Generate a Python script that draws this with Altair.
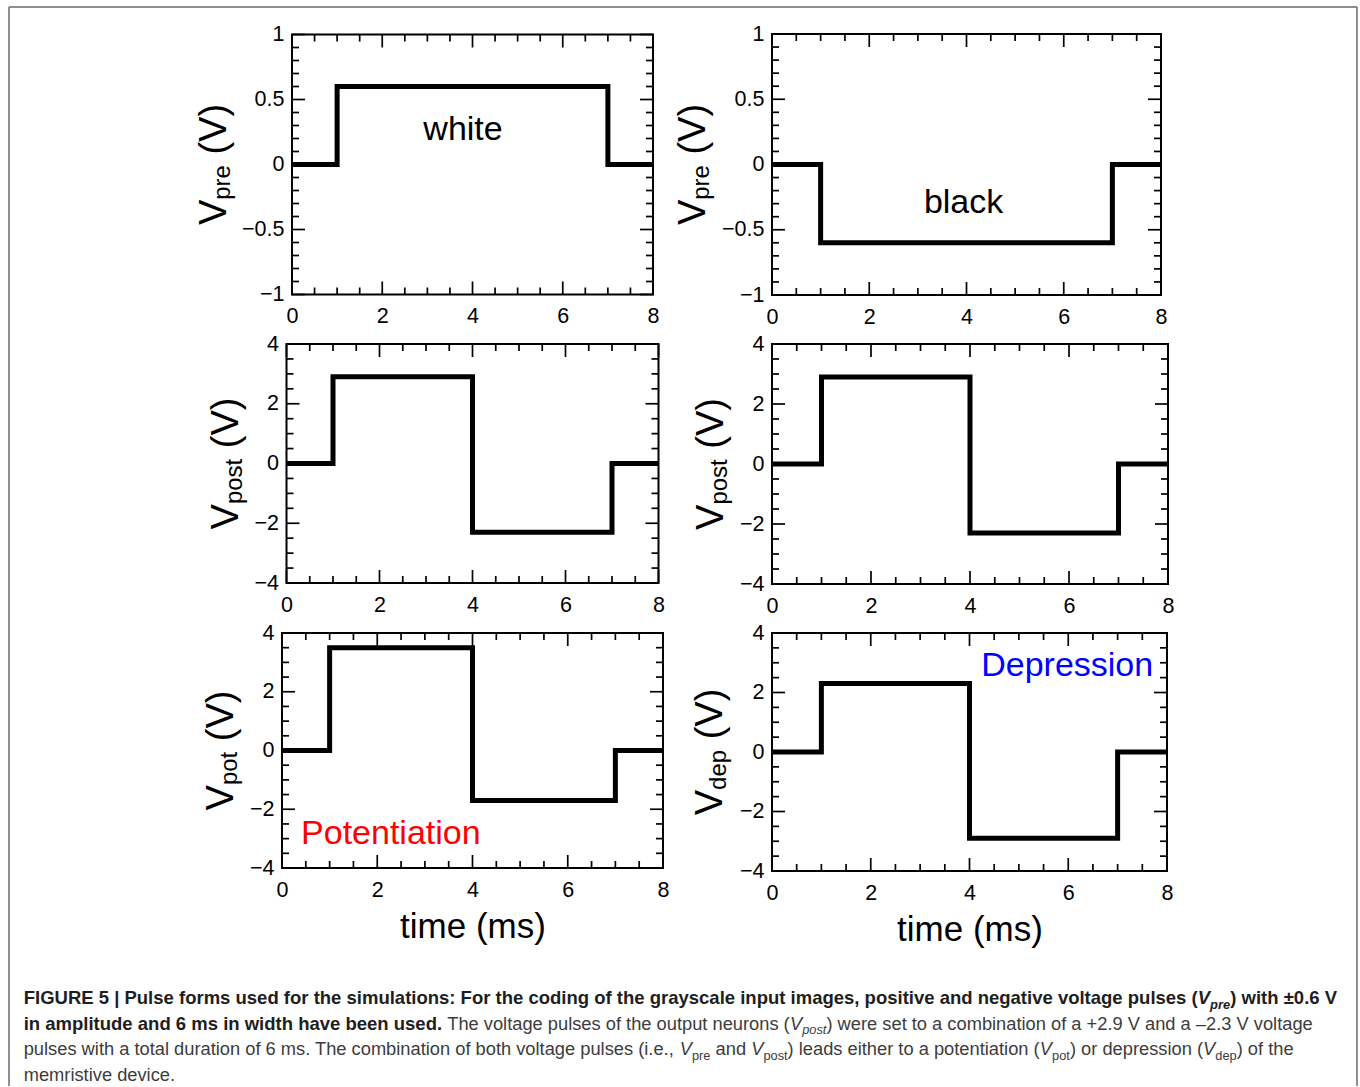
import altair as alt
import pandas as pd

FONT = "Liberation Sans"

# ---------------- data ----------------
time_pre = [0, 1, 7, 8]
v_white = [0, 0.6, 0, 0]
v_black = [0, -0.6, 0, 0]
time_post = [0, 1, 4, 7, 8]
v_post = [0, 2.9, -2.3, 0, 0]
v_pot = [0, 3.5, -1.7, 0, 0]
v_dep = [0, 2.3, -2.9, 0, 0]

x_major = [0, 2, 4, 6, 8]
x_minor = [0.5, 1, 1.5, 2.5, 3, 3.5, 4.5, 5, 5.5, 6.5, 7, 7.5]
y_major_pre = [-1, -0.5, 0, 0.5, 1]
y_minor_pre = [-0.9, -0.8, -0.7, -0.6, -0.4, -0.3, -0.2, -0.1,
               0.1, 0.2, 0.3, 0.4, 0.6, 0.7, 0.8, 0.9]
y_major_post = [-4, -2, 0, 2, 4]
y_minor_post = [-3.5, -3, -2.5, -1.5, -1, -0.5, 0.5, 1, 1.5, 2.5, 3, 3.5]

ann_text = ["white", "black", "Potentiation", "Depression"]
ann_t = [3.79, 3.94, 0.4, 7.72]
ann_v = [0.19, -0.37, -3.18, 2.55]
ann_color = ["black", "black", "#ff0000", "#0000ff"]

subs = ["pre", "pre", "post", "post", "pot", "dep"]
x_title = "time (ms)"

cap_lines = [
    [("FIGURE 5 | Pulse forms used for the simulations: For the coding of the grayscale input images, positive and negative voltage pulses (", "b"),
     ("V", "bi"), ("pre", "bis"), (") with \u00b10.6 V", "b")],
    [("in amplitude and 6 ms in width have been used.", "b"),
     (" The voltage pulses of the output neurons (", "n"), ("V", "i"), ("post", "is"),
     (") were set to a combination of a +2.9 V and a \u20132.3 V voltage", "n")],
    [("pulses with a total duration of 6 ms. The combination of both voltage pulses (i.e., ", "n"),
     ("V", "i"), ("pre", "s"), (" and ", "n"), ("V", "i"), ("post", "s"),
     (") leads either to a potentiation (", "n"), ("V", "i"), ("pot", "s"),
     (") or depression (", "n"), ("V", "i"), ("dep", "s"), (") of the", "n")],
    [("memristive device.", "n")],
]

# ---------------- layout / style (pixels) ----------------
CAP_X0 = 22.7
cap_y = [1003, 1028.5, 1054, 1079.5]

GRID_X0, GRID_Y0 = 281, 33
COLW = [381, 396]
ROWH = [261, 240, 238]
sizes = [(361, 260), (389, 261), (372, 239), (396, 240), (381, 235), (395, 238)]
title_xb = [-66, -67, -49, -49, -49, -50]

FB, FN = 18.5, 18.3
STYLE = {
    "b":   dict(fontSize=FB, fontWeight="bold", fontStyle="normal", color="#1e1e1e", dy=0, tab="b"),
    "bi":  dict(fontSize=FB, fontWeight="bold", fontStyle="italic", color="#1e1e1e", dy=0, tab="b"),
    "bis": dict(fontSize=FB * 0.7, fontWeight="bold", fontStyle="italic", color="#1e1e1e", dy=4.5, tab="b"),
    "n":   dict(fontSize=FN, fontWeight="normal", fontStyle="normal", color="#3c3c3c", dy=0, tab="n"),
    "i":   dict(fontSize=FN, fontWeight="normal", fontStyle="italic", color="#3c3c3c", dy=0, tab="n"),
    "is":  dict(fontSize=FN * 0.7, fontWeight="normal", fontStyle="italic", color="#3c3c3c", dy=4.5, tab="n"),
    "s":   dict(fontSize=FN * 0.7, fontWeight="normal", fontStyle="normal", color="#3c3c3c", dy=4.5, tab="n"),
}

# Arial / Liberation Sans advance widths (1/1000 em), used to lay caption pieces side by side
_lower_n = dict(zip("abcdefghijklmnopqrstuvwxyz",
                    [556, 556, 500, 556, 556, 278, 556, 556, 222, 222, 500, 222, 833,
                     556, 556, 556, 556, 333, 500, 278, 556, 500, 722, 500, 500, 500]))
_lower_b = dict(zip("abcdefghijklmnopqrstuvwxyz",
                    [556, 611, 556, 611, 556, 333, 611, 611, 278, 278, 556, 278, 889,
                     611, 611, 611, 611, 389, 556, 333, 611, 556, 778, 556, 556, 500]))
_upper_n = dict(zip("ABCDEFGHIJKLMNOPQRSTUVWXYZ",
                    [667, 667, 722, 722, 667, 611, 778, 722, 278, 500, 667, 556, 833,
                     722, 778, 667, 778, 722, 667, 611, 722, 667, 944, 667, 667, 611]))
_upper_b = dict(zip("ABCDEFGHIJKLMNOPQRSTUVWXYZ",
                    [722, 722, 722, 722, 667, 611, 778, 722, 278, 556, 722, 611, 833,
                     722, 778, 667, 778, 722, 667, 611, 722, 667, 944, 667, 667, 611]))
_punct_n = {" ": 278, "(": 333, ")": 333, ",": 278, ".": 278, ":": 278, "|": 260,
            "+": 584, "\u2013": 556, "\u00b1": 584}
_punct_b = {" ": 278, "(": 333, ")": 333, ",": 278, ".": 278, ":": 333, "|": 280,
            "+": 584, "\u2013": 556, "\u00b1": 584}
WTAB = {"n": {**_lower_n, **_upper_n, **_punct_n, **{d: 556 for d in "0123456789"}},
        "b": {**_lower_b, **_upper_b, **_punct_b, **{d: 556 for d in "0123456789"}}}


def text_width(s, st):
    tab = WTAB[STYLE[st]["tab"]]
    return sum(tab.get(c, 556) for c in s) / 1000.0 * STYLE[st]["fontSize"]


CW = {"V": 0.667, "p": 0.556, "r": 0.333, "e": 0.556, "o": 0.556, "s": 0.5,
      "t": 0.278, "d": 0.556, " ": 0.278, "(": 0.333, ")": 0.333}

one = pd.DataFrame({"k": [0]})


def panel(idx, t, v, ydom, ymaj, ymin, bottom):
    w, h = sizes[idx]
    xs = alt.Scale(domain=[0, 8], nice=False, zero=False)
    ys = alt.Scale(domain=ydom, nice=False, zero=False)
    xkw = dict(values=x_major, format="~g", ticks=False, tickSize=0, domain=False,
               grid=False, labelFontSize=21.5, labelPadding=11, labelColor="black",
               labelFont=FONT, labelFlush=False)
    if bottom:
        xkw.update(title=x_title, titleFontSize=35, titleFont=FONT,
                   titleFontWeight="normal", titleColor="black", titlePadding=9)
    else:
        xkw.update(title="")
    xaxis = alt.Axis(**xkw)
    yaxis = alt.Axis(values=ymaj, format="~g", ticks=False, tickSize=0, domain=False,
                     grid=False, labelFontSize=21.5, labelPadding=8, labelColor="black",
                     labelFont=FONT, labelFlush=False, title="")
    X = lambda: alt.X("t:Q", scale=xs, axis=xaxis)
    Y = lambda: alt.Y("v:Q", scale=ys, axis=yaxis)
    df = pd.DataFrame({"t": t, "v": v})
    layers = [alt.Chart(df).mark_line(interpolate="step-after", color="black",
                                       strokeWidth=5, strokeJoin="miter", strokeCap="butt")
              .encode(x=X(), y=Y())]
    # inward ticks on all four sides
    for vals, ln in ((x_major, 13), (x_minor, 7)):
        d = pd.DataFrame({"t": vals})
        for top in (False, True):
            layers.append(alt.Chart(d).mark_rule(color="black", strokeWidth=1.7).encode(
                x=X(), y=alt.value(0 if top else h), y2=alt.value(ln if top else h - ln)))
    for vals, ln in ((ymaj, 13), (ymin, 7)):
        d = pd.DataFrame({"v": vals})
        for right in (False, True):
            layers.append(alt.Chart(d).mark_rule(color="black", strokeWidth=1.7).encode(
                y=Y(), x=alt.value(w if right else 0), x2=alt.value(w - ln if right else ln)))
    # y title: V_sub (V)
    F, f = 38, 24
    sub = subs[idx]
    wV = CW["V"] * F
    wsub = sum(CW[c] for c in sub) * f
    wsp = CW[" "] * F
    wpar = (CW["("] + CW["V"] + CW[")"]) * F
    L = wV + wsub + wsp + wpar
    y0 = h / 2 + L / 2
    xb = title_xb[idx]
    for txt, fs, xx, yy in (("V", F, xb, y0), (sub, f, xb + 4, y0 - wV),
                            ("(V)", F, xb, y0 - wV - wsub - wsp)):
        layers.append(alt.Chart(one).mark_text(text=txt, angle=270, align="left",
                                               baseline="alphabetic", fontSize=fs,
                                               font=FONT, color="black")
                      .encode(x=alt.value(xx), y=alt.value(yy)))
    return layers, X, Y


def annotation(i, X, Y, align):
    d = pd.DataFrame({"t": [ann_t[i]], "v": [ann_v[i]], "label": [ann_text[i]]})
    return alt.Chart(d).mark_text(align=align, baseline="alphabetic", fontSize=34,
                                  font=FONT, color=ann_color[i]).encode(
        x=X(), y=Y(), text="label:N")


# absolute origin of panel 1 (frame and caption are placed relative to it)
p1x = GRID_X0 + (COLW[0] - sizes[0][0]) / 2
p1y = GRID_Y0 + (ROWH[0] - sizes[0][1]) / 2

specs = [
    (time_pre, v_white, [-1, 1], y_major_pre, y_minor_pre, False),
    (time_pre, v_black, [-1, 1], y_major_pre, y_minor_pre, False),
    (time_post, v_post, [-4, 4], y_major_post, y_minor_post, False),
    (time_post, v_post, [-4, 4], y_major_post, y_minor_post, False),
    (time_post, v_pot, [-4, 4], y_major_post, y_minor_post, True),
    (time_post, v_dep, [-4, 4], y_major_post, y_minor_post, True),
]
charts = []
for idx, sp in enumerate(specs):
    layers, X, Y = panel(idx, *sp)
    if idx == 0:
        layers.append(annotation(0, X, Y, "center"))
        # outer figure frame (left, right, top)
        fx1, fx2, fy1, fy2 = 8 - p1x, 1356 - p1x, 6 - p1y, 1085 - p1y
        for enc in (dict(x=alt.value(fx1), y=alt.value(fy1), y2=alt.value(fy2)),
                    dict(x=alt.value(fx2), y=alt.value(fy1), y2=alt.value(fy2)),
                    dict(x=alt.value(fx1), x2=alt.value(fx2), y=alt.value(fy1))):
            layers.append(alt.Chart(one).mark_rule(color="#6a6a6a", strokeWidth=1.5).encode(**enc))
        # caption, pieces laid out side by side
        for li, segs in enumerate(cap_lines):
            cx = CAP_X0
            for txt, st in segs:
                s = STYLE[st]
                lead = len(txt) - len(txt.lstrip(" "))
                core = txt.strip(" ")
                trail = len(txt) - len(txt.rstrip(" "))
                cx += text_width(" " * lead, st)
                layers.append(alt.Chart(one).mark_text(
                    text=core, align="left", baseline="alphabetic", font=FONT,
                    fontSize=s["fontSize"], fontWeight=s["fontWeight"],
                    fontStyle=s["fontStyle"], color=s["color"]).encode(
                    x=alt.value(cx - p1x), y=alt.value(cap_y[li] + s["dy"] - p1y)))
                cx += text_width(core, st) + text_width(" " * trail, st)
    if idx == 1:
        layers.append(annotation(1, X, Y, "center"))
    if idx == 4:
        layers.append(annotation(2, X, Y, "left"))
    if idx == 5:
        layers.append(annotation(3, X, Y, "right"))
    w, h = sizes[idx]
    charts.append(alt.layer(*layers).properties(width=w, height=h))

chart = alt.concat(*charts, columns=2, bounds="flush", center=True,
                   spacing={"row": 49, "column": 109}).properties(
    padding={"left": 7, "top": 5, "right": 0, "bottom": 0}
).configure(font=FONT).configure_view(stroke="black", strokeWidth=2)

chart.save("out.html", embed_options={"renderer": "svg", "actions": False})
